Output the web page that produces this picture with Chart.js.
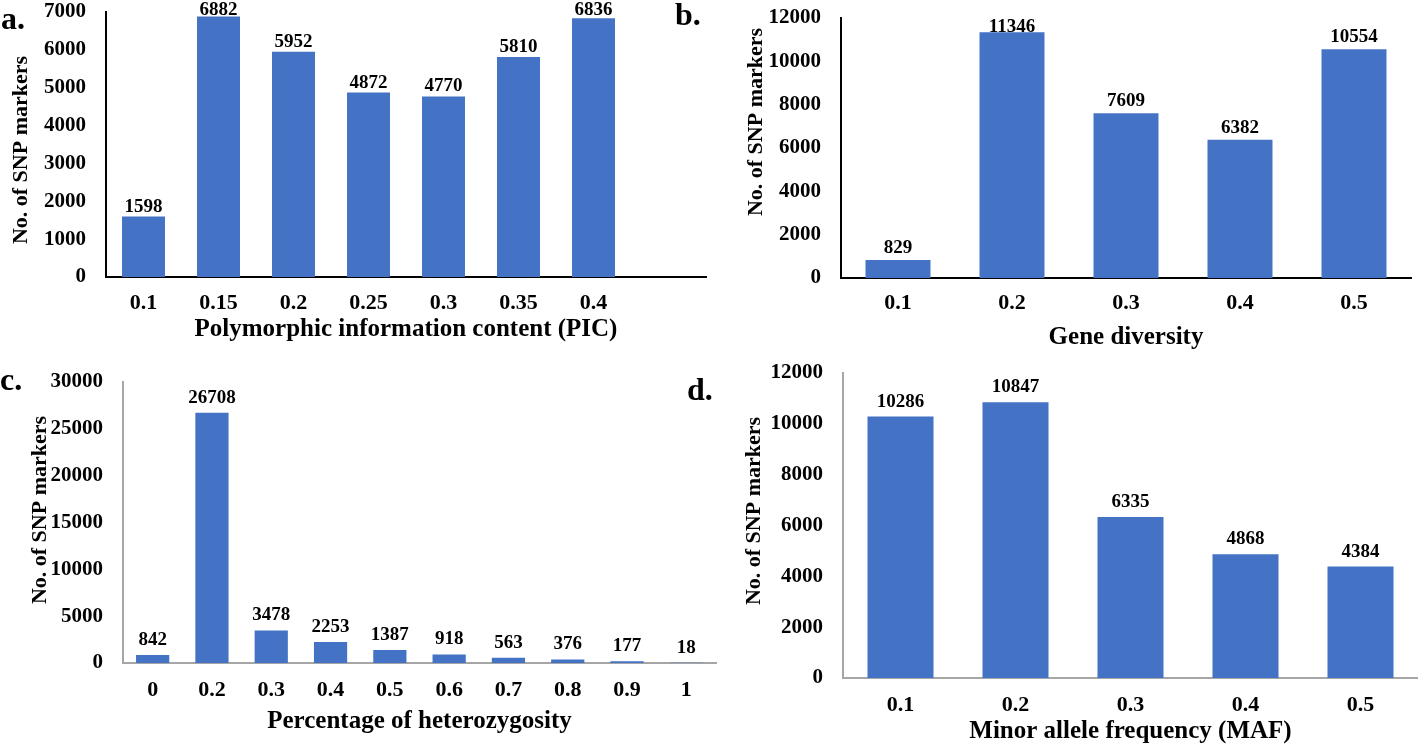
<!DOCTYPE html>
<html><head><meta charset="utf-8">
<script src="https://cdn.jsdelivr.net/npm/chart.js@4.4.1/dist/chart.umd.min.js"></script>
<style>
html,body{margin:0;padding:0;background:#fff;width:1418px;height:747px;overflow:hidden;position:relative;}
.pane{position:absolute;}
.pane canvas{display:block;}
.lbl{position:absolute;font-family:'Liberation Serif',serif;font-weight:bold;font-size:32px;line-height:32px;color:#000;white-space:nowrap;}
</style></head><body>
<div class="pane" style="left:0;top:0;width:718px;height:345px"><canvas id="ca" width="718" height="345"></canvas></div>
<div class="pane" style="left:718px;top:0;width:700px;height:355px"><canvas id="cb" width="700" height="355"></canvas></div>
<div class="pane" style="left:0;top:345px;width:718px;height:402px"><canvas id="cc" width="718" height="402"></canvas></div>
<div class="pane" style="left:718px;top:355px;width:700px;height:392px"><canvas id="cd" width="700" height="392"></canvas></div>
<div class="lbl" style="left:1px;top:2px">a.</div>
<div class="lbl" style="left:675px;top:-2px">b.</div>
<div class="lbl" style="left:0px;top:363px">c.</div>
<div class="lbl" style="left:687px;top:373px">d.</div>
<script>
const picCategories = ['0.1','0.15','0.2','0.25','0.3','0.35','0.4',''];
const picValues = [1598,6882,5952,4872,4770,5810,6836,null];
const gdCategories = ['0.1','0.2','0.3','0.4','0.5'];
const gdValues = [829,11346,7609,6382,10554];
const hetCategories = ['0','0.2','0.3','0.4','0.5','0.6','0.7','0.8','0.9','1'];
const hetValues = [842,26708,3478,2253,1387,918,563,376,177,18];
const mafCategories = ['0.1','0.2','0.3','0.4','0.5'];
const mafValues = [10286,10847,6335,4868,4384];
const yTitleText = 'No. of SNP markers';

const FONT = "'Liberation Serif', 'Times New Roman', serif";
const BAR = '#4472C4';

const valueLabels = {
  id:'valueLabels',
  afterDatasetsDraw(chart, args, opts){
    const ctx = chart.ctx;
    const meta = chart.getDatasetMeta(0);
    const vals = chart.data.datasets[0].data;
    ctx.save();
    ctx.font = 'bold 19px ' + FONT;
    ctx.fillStyle = '#000';
    ctx.textAlign = 'center';
    ctx.textBaseline = 'alphabetic';
    meta.data.forEach((bar, i) => {
      const v = vals[i];
      if (v === null || v === undefined) return;
      let y = bar.y - opts.gap;
      y = Math.max(y, chart.chartArea.top + opts.minTop);
      ctx.fillText(String(v), bar.x, y);
    });
    ctx.restore();
  }
};

const yTitle = {
  id:'yTitle',
  afterDraw(chart, args, o){
    const ctx = chart.ctx;
    ctx.save();
    ctx.translate(o.x, o.y);
    ctx.rotate(-Math.PI/2);
    ctx.font = 'bold 22px ' + FONT;
    ctx.fillStyle = '#000';
    ctx.textAlign = 'center';
    ctx.textBaseline = 'middle';
    ctx.fillText(o.text, 0, 0);
    ctx.restore();
  }
};

function build(id, p){
  return new Chart(document.getElementById(id), {
    type:'bar',
    data:{labels:p.labels, datasets:[{data:p.values, backgroundColor:BAR, borderWidth:0, categoryPercentage:1, barPercentage:p.barPct}]},
    options:{
      responsive:false, animation:false, devicePixelRatio:1,
      layout:{padding:{left:0, top:p.padTop, right:p.padRight, bottom:0}},
      plugins:{legend:{display:false}, tooltip:{enabled:false},
        valueLabels:{gap:p.gap, minTop:p.minTop},
        yTitle:{text:yTitleText, x:p.yTitleX, y:p.yTitleY}},
      scales:{
        x:{
          grid:{display:false, drawTicks:false},
          border:{display:true, color:p.axisColor, width:2},
          ticks:{color:'#000', padding:p.xTickPad, maxRotation:0, autoSkip:false, font:{family:FONT, weight:'bold', size:22}},
          title:{display:true, text:p.xTitle, color:'#000', font:{family:FONT, weight:'bold', size:25}, padding:{top:0, bottom:p.xTitlePad}},
          afterFit(s){ s.height = p.xHeight; s.paddingLeft = 0; s.paddingRight = 0; s.paddingTop = 0; s.paddingBottom = 0; }
        },
        y:{
          min:0, max:p.yMax,
          grid:{display:false, drawTicks:false},
          border:{display:true, color:p.axisColor, width:2},
          ticks:{stepSize:p.yStep, color:'#000', padding:20, font:{family:FONT, weight:'bold', size:21}, callback:(v)=>String(v)},
          title:{display:false},
          afterFit(s){ s.width = p.yWidth; s.paddingTop = 0; s.paddingBottom = 0; s.paddingLeft = 0; s.paddingRight = 0; }
        }
      }
    },
    plugins:[valueLabels, yTitle]
  });
}

build('ca', {labels:picCategories, values:picValues, yMax:7000, yStep:1000, axisColor:'#000',
  yWidth:106, xHeight:68, padTop:12, padRight:12, xTickPad:13, xTitle:'Polymorphic information content (PIC)',
  xTitlePad:0, yTitleX:21, yTitleY:150, barPct:0.573, gap:5, minTop:3});
build('cb', {labels:gdCategories, values:gdValues, yMax:12000, yStep:2000, axisColor:'#000',
  yWidth:123, xHeight:77, padTop:18, padRight:7, xTickPad:12, xTitle:'Gene diversity',
  xTitlePad:2, yTitleX:38, yTitleY:122, barPct:0.57, gap:7, minTop:14});
build('cc', {labels:hetCategories, values:hetValues, yMax:30000, yStep:5000, axisColor:'#a6a6a6',
  yWidth:123, xHeight:84, padTop:37, padRight:2, xTickPad:14, xTitle:'Percentage of heterozygosity',
  xTitlePad:10, yTitleX:40, yTitleY:165, barPct:0.56, gap:10, minTop:-100});
build('cd', {labels:mafCategories, values:mafValues, yMax:12000, yStep:2000, axisColor:'#a6a6a6',
  yWidth:125, xHeight:69, padTop:18, padRight:0, xTickPad:14, xTitle:'Minor allele frequency (MAF)',
  xTitlePad:0, yTitleX:36, yTitleY:156, barPct:0.574, gap:10, minTop:-100});
</script>
</body></html>
